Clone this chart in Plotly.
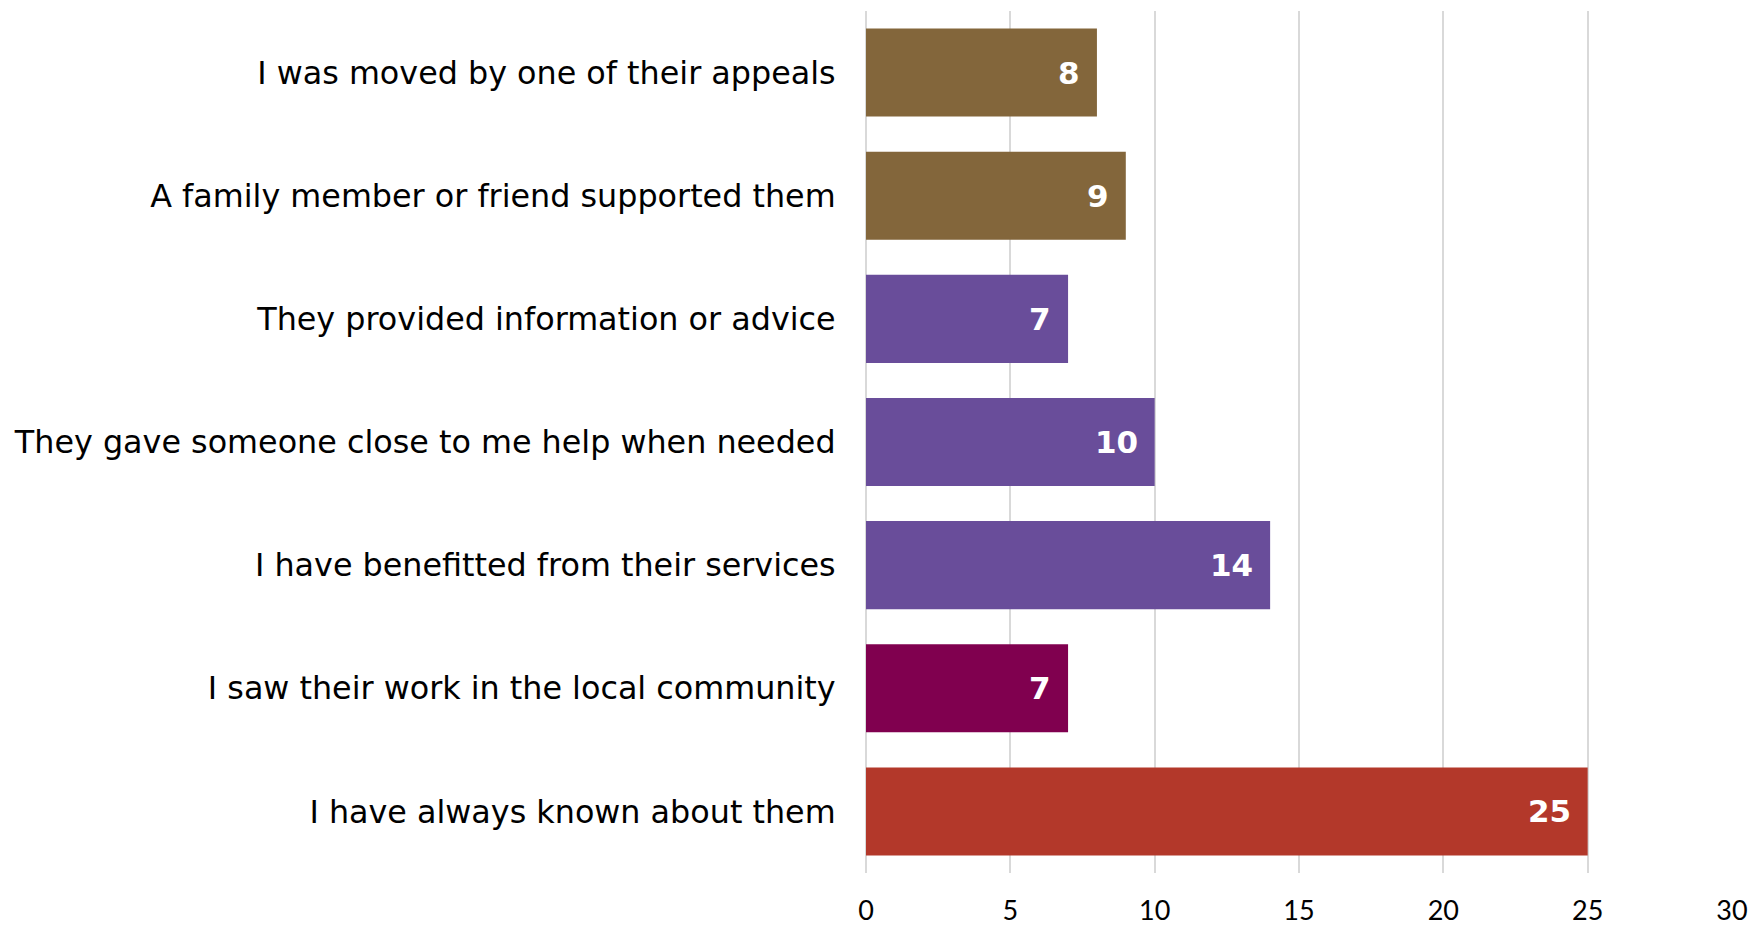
import plotly.graph_objects as go

# Reasons for supporting the charity (number of respondents), listed top to bottom
reasons = [
    "I was moved by one of their appeals",
    "A family member or friend supported them",
    "They provided information or advice",
    "They gave someone close to me help when needed",
    "I have benefitted from their services",
    "I saw their work in the local community",
    "I have always known about them",
]
counts = [8, 9, 7, 10, 14, 7, 25]
bar_colors = ["#83663B", "#83663B", "#694D9A", "#694D9A", "#694D9A", "#80004F", "#B3382A"]
x_ticks = [0, 5, 10, 15, 20, 25, 30]

fig = go.Figure(
    go.Bar(
        x=counts,
        y=reasons,
        orientation="h",
        marker=dict(color=bar_colors, line=dict(width=0)),
        hoverinfo="x+y",
    )
)

# White bold value labels inside the end of each bar
for reason, n in zip(reasons, counts):
    fig.add_annotation(
        x=n, y=reason, text=str(n), showarrow=False,
        xanchor="right", yanchor="middle", xshift=-15,
        font=dict(family="DejaVu Sans", size=31, color="white", weight="bold"),
    )

fig.update_layout(
    width=1752, height=925,
    margin=dict(l=866, r=20, t=11, b=52),
    plot_bgcolor="white", paper_bgcolor="white",
    bargap=0.285,
    showlegend=False,
    xaxis=dict(
        range=[0, 30], tickvals=x_ticks, ticktext=[str(v) for v in x_ticks],
        showgrid=True, gridcolor="#D9D9D9", gridwidth=2,
        zeroline=True, zerolinecolor="#D9D9D9", zerolinewidth=2,
        showline=False, ticks="outside", ticklen=14, tickcolor="rgba(0,0,0,0)",
        tickfont=dict(family="Lato", size=27, color="#000000"),
        automargin=False,
        fixedrange=True,
    ),
    yaxis=dict(
        categoryorder="array", categoryarray=reasons[::-1],
        autorange=True,
        showgrid=False, showline=False, zeroline=False,
        ticks="outside", ticklen=23, tickcolor="rgba(0,0,0,0)",
        tickfont=dict(family="DejaVu Sans", size=31.8, color="#000000"),
        automargin=False,
        fixedrange=True,
    ),
)

fig.write_html("out.html")
